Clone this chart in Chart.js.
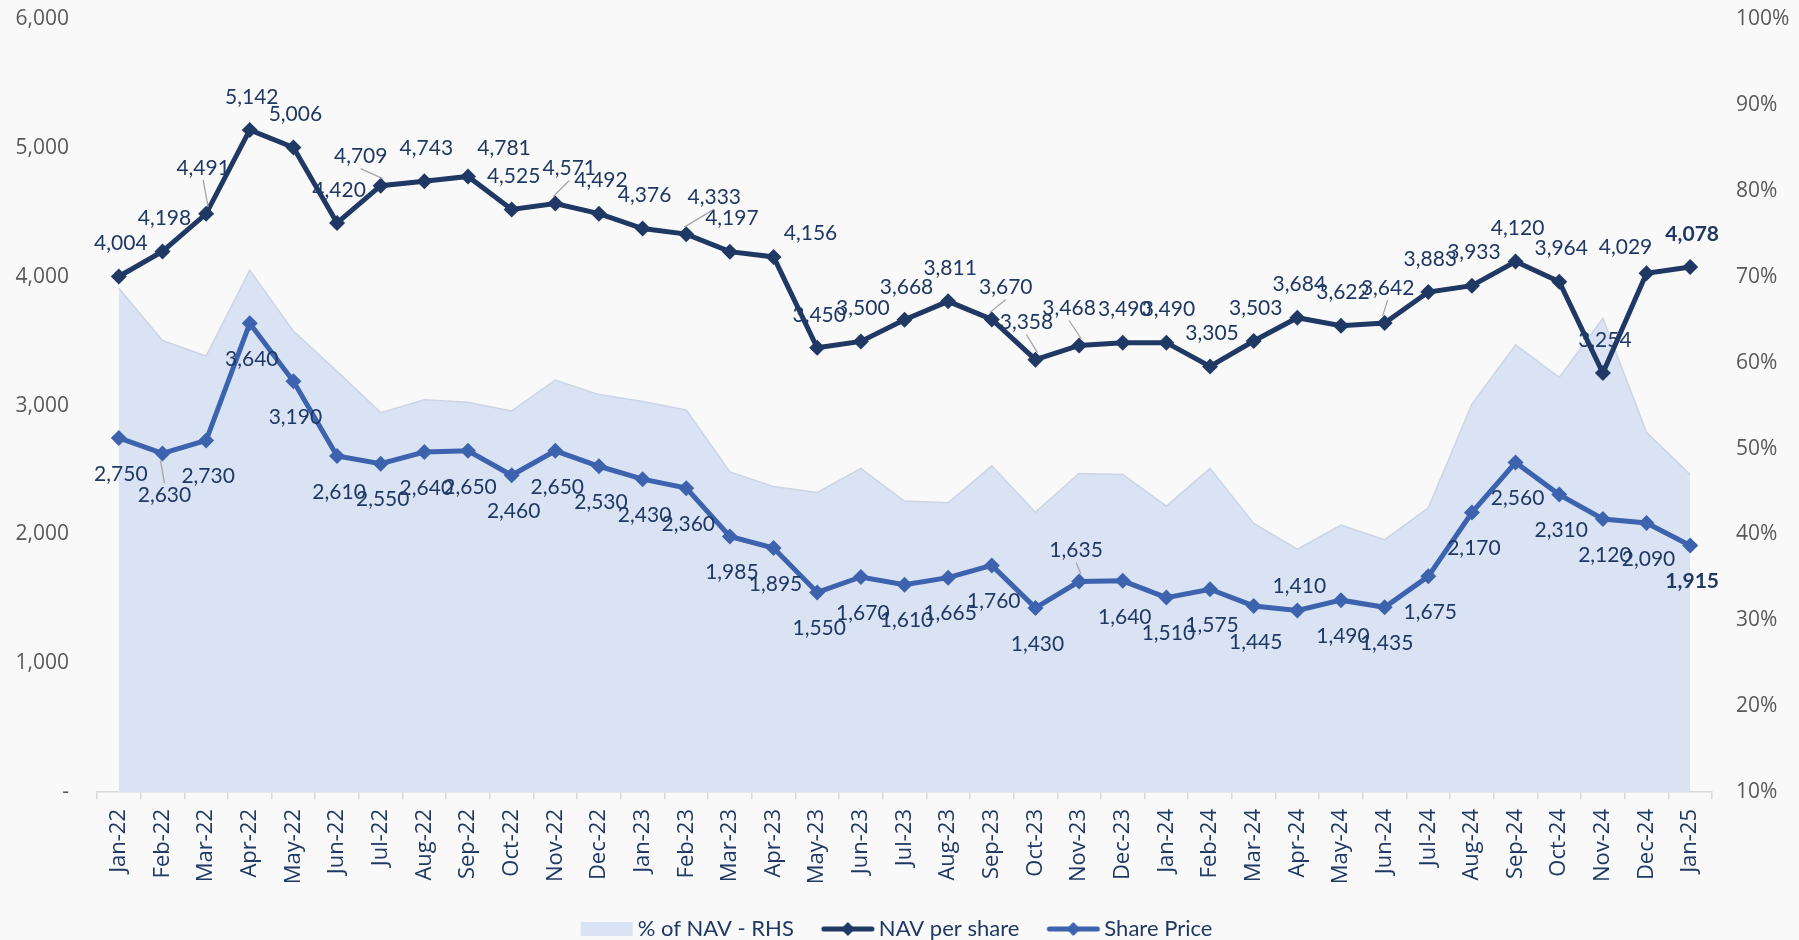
<!DOCTYPE html>
<html>
<head>
<meta charset="utf-8">
<title>NAV per share vs Share Price</title>
<script src="https://cdn.jsdelivr.net/npm/chart.js@4.4.1/dist/chart.umd.min.js"></script>
<style>
  html, body { margin: 0; padding: 0; background: #f9f9f9; }
  #wrap { width: 1799px; height: 940px; position: relative; }
</style>
</head>
<body>
<div id="wrap"><canvas id="navChart"></canvas></div>
<script>
// Chart data
const months = ['Jan-22', 'Feb-22', 'Mar-22', 'Apr-22', 'May-22', 'Jun-22', 'Jul-22', 'Aug-22', 'Sep-22',
    'Oct-22', 'Nov-22', 'Dec-22', 'Jan-23', 'Feb-23', 'Mar-23', 'Apr-23', 'May-23', 'Jun-23', 'Jul-23',
    'Aug-23', 'Sep-23', 'Oct-23', 'Nov-23', 'Dec-23', 'Jan-24', 'Feb-24', 'Mar-24', 'Apr-24', 'May-24',
    'Jun-24', 'Jul-24', 'Aug-24', 'Sep-24', 'Oct-24', 'Nov-24', 'Dec-24', 'Jan-25'];
const navPerShare = [4004, 4198, 4491, 5142, 5006, 4420, 4709, 4743, 4781, 4525, 4571, 4492, 4376, 4333,
    4197, 4156, 3450, 3500, 3668, 3811, 3670, 3358, 3468, 3490, 3490, 3305, 3503, 3684, 3622, 3642,
    3883, 3933, 4120, 3964, 3254, 4029, 4078];
const sharePrice = [2750, 2630, 2730, 3640, 3190, 2610, 2550, 2640, 2650, 2460, 2650, 2530, 2430, 2360,
    1985, 1895, 1550, 1670, 1610, 1665, 1760, 1430, 1635, 1640, 1510, 1575, 1445, 1410, 1490, 1435,
    1675, 2170, 2560, 2310, 2120, 2090, 1915];
const pctOfNav = [68.7, 62.6, 60.8, 70.8, 63.7, 59.0, 54.2, 55.7, 55.4, 54.4, 58.0, 56.3, 55.5, 54.5,
    47.3, 45.6, 44.9, 47.7, 43.9, 43.7, 48.0, 42.6, 47.1, 47.0, 43.3, 47.7, 41.3, 38.3, 41.1, 39.4,
    43.1, 55.2, 62.1, 58.3, 65.2, 51.9, 47.0];
const leftTicks = [0, 1000, 2000, 3000, 4000, 5000, 6000];
const rightTicks = [10, 20, 30, 40, 50, 60, 70, 80, 90, 100];

const NAVY = '#1F3864';
const BLUE = '#3D63AE';
const AREA = '#DAE3F3';

// label nudges where the labels were moved off the default spot: [dx, dy, leader line]
const navNudge = {2: [-3, -46, true], 6: [-20, -29, true], 8: [36, -28], 10: [14, -35, true],
    13: [28, -37, true], 15: [37, -24], 20: [14, -32, true], 21: [-9, -37, true],
    22: [-10, -37, true], 29: [3, -35, true], 35: [-21, -26]};
const spNudge = {1: [2, 42, true], 22: [-3, -31, true], 27: [2, -24]};

const valueLabels = {
    id: 'valueLabels',
    afterDatasetsDraw(chart) {
        const ctx = chart.ctx;
        const sets = [[1, navPerShare, navNudge, -33], [2, sharePrice, spNudge, 36]];
        ctx.save();
        ctx.textAlign = 'center';
        ctx.textBaseline = 'middle';
        sets.forEach(([dsIndex, values, nudges, defDy]) => {
            const meta = chart.getDatasetMeta(dsIndex);
            meta.data.forEach((pt, i) => {
                const n = nudges[i] || [2, defDy, false];
                const lx = pt.x + n[0];
                const ly = pt.y + n[1];
                if (n[2]) {
                    const sy = ly + (n[1] < 0 ? 12 : -12);
                    const ex = pt.x - Math.sign(n[0]) * 2;
                    const ey = pt.y + (n[1] < 0 ? -7 : 7);
                    ctx.strokeStyle = '#A6A6A6';
                    ctx.lineWidth = 1.3;
                    ctx.beginPath();
                    ctx.moveTo(lx, sy);
                    ctx.lineTo(ex, ey);
                    ctx.stroke();
                }
                const last = i === values.length - 1;
                ctx.font = (last ? 'bold ' : '') + '21px Lato';
                ctx.fillStyle = NAVY;
                ctx.fillText(values[i].toLocaleString('en-US'), lx, ly);
            });
        });
        ctx.restore();
    }
};

function legendSwatch(kind, color) {
    const c = document.createElement('canvas');
    c.width = 56;
    c.height = 16;
    const g = c.getContext('2d');
    if (kind === 'area') {
        g.fillStyle = AREA;
        g.fillRect(2, 1, 52, 14);
    } else {
        g.strokeStyle = color;
        g.lineWidth = 5;
        g.lineCap = 'round';
        g.beginPath();
        g.moveTo(4, 8);
        g.lineTo(52, 8);
        g.stroke();
        g.fillStyle = color;
        g.beginPath();
        g.moveTo(21, 8);
        g.lineTo(28, 1);
        g.lineTo(35, 8);
        g.lineTo(28, 15);
        g.closePath();
        g.fill();
    }
    return c;
}

// y axes: fixed width, and no extra top/bottom padding from the tick padding
function fixAxis(width) {
    return scale => {
        scale.width = width;
        scale.paddingTop = 0;
        scale.paddingBottom = 0;
    };
}

const ctx = document.getElementById('navChart').getContext('2d');
new Chart(ctx, {
    type: 'line',
    data: {
        labels: months,
        datasets: [{
            label: '% of NAV - RHS',
            data: pctOfNav,
            yAxisID: 'y1',
            fill: 'start',
            backgroundColor: AREA,
            borderColor: '#CCD5E5',
            borderWidth: 1.5,
            pointRadius: 0,
            tension: 0,
            order: 3
        }, {
            label: 'NAV per share',
            data: navPerShare,
            yAxisID: 'y',
            borderColor: NAVY,
            backgroundColor: NAVY,
            borderWidth: 5,
            pointStyle: 'rectRot',
            pointRadius: 8,
            pointBorderWidth: 0,
            pointBackgroundColor: NAVY,
            tension: 0,
            order: 1
        }, {
            label: 'Share Price',
            data: sharePrice,
            yAxisID: 'y',
            borderColor: BLUE,
            backgroundColor: BLUE,
            borderWidth: 5,
            pointStyle: 'rectRot',
            pointRadius: 8,
            pointBorderWidth: 0,
            pointBackgroundColor: BLUE,
            tension: 0,
            order: 2
        }]
    },
    options: {
        responsive: true,
        maintainAspectRatio: false,
        animation: false,
        layout: {
            padding: { top: 19.5, left: 0, right: 0, bottom: 0 }
        },
        plugins: {
            tooltip: { enabled: false },
            legend: {
                position: 'bottom',
                maxHeight: 56,
                labels: {
                    usePointStyle: true,
                    pointStyleWidth: 40,
                    padding: 34,
                    color: NAVY,
                    font: { family: 'Lato', size: 22 },
                    generateLabels(chart) {
                        return chart.data.datasets.map((ds, i) => ({
                            text: ds.label,
                            datasetIndex: i,
                            hidden: false,
                            fontColor: NAVY,
                            fillStyle: ds.backgroundColor,
                            strokeStyle: ds.borderColor,
                            lineWidth: 0,
                            pointStyle: i === 0 ? legendSwatch('area') : legendSwatch('line', ds.borderColor)
                        }));
                    }
                }
            }
        },
        scales: {
            x: {
                offset: true,
                grid: {
                    display: true,
                    offset: true,
                    drawOnChartArea: false,
                    drawTicks: true,
                    tickLength: 7,
                    color: '#D9D9D9',
                    lineWidth: 1.5
                },
                border: { display: true, color: '#D9D9D9', width: 1.5 },
                ticks: {
                    autoSkip: false,
                    minRotation: 90,
                    maxRotation: 90,
                    padding: 10,
                    color: NAVY,
                    font: { family: 'Open Sans', size: 22 }
                },
                afterFit(scale) { scale.height = 92; }
            },
            y: {
                position: 'left',
                min: 0,
                max: 6000,
                afterBuildTicks(scale) { scale.ticks = leftTicks.map(v => ({ value: v })); },
                grid: { display: false, drawTicks: false },
                border: { display: false },
                ticks: {
                    padding: 28,
                    color: '#595959',
                    font: { family: 'Open Sans', size: 21 },
                    callback: v => v === 0 ? '-' : v.toLocaleString('en-US')
                },
                afterFit: fixAxis(97)
            },
            y1: {
                position: 'right',
                min: 10,
                max: 100,
                afterBuildTicks(scale) { scale.ticks = rightTicks.map(v => ({ value: v })); },
                grid: { display: false, drawTicks: false },
                border: { display: false },
                ticks: {
                    padding: 24,
                    color: '#595959',
                    font: { family: 'Open Sans', size: 21 },
                    callback: v => v + '%'
                },
                afterFit: fixAxis(87)
            }
        }
    },
    plugins: [valueLabels]
});
</script>
</body>
</html>
